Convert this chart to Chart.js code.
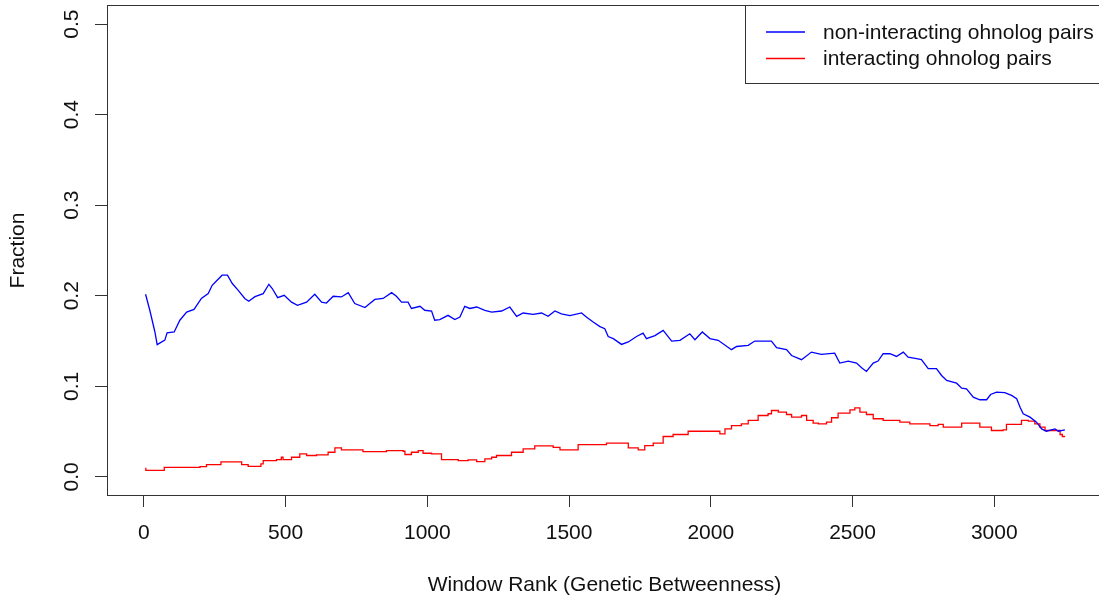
<!DOCTYPE html>
<html>
<head>
<meta charset="utf-8">
<script src="https://cdn.jsdelivr.net/npm/chart.js@4/dist/chart.umd.min.js"></script>
<style>
  html, body { margin: 0; padding: 0; background: #fff; overflow: hidden; }
  #wrap { width: 1104px; height: 599px; position: relative; }
</style>
</head>
<body>
<div id="wrap"><canvas id="c" width="1104" height="599"></canvas></div>
<script>
// Axis ticks
const xTickValues = [0, 500, 1000, 1500, 2000, 2500, 3000];
const yTickValues = [0, 0.1, 0.2, 0.3, 0.4, 0.5];

// Series names
const seriesLabels = ['non-interacting ohnolog pairs', 'interacting ohnolog pairs'];

// Fraction of non-interacting ohnolog pairs along the window rank
const nonInteractingRank = [
  6, 21, 39, 47, 74, 82, 107, 127, 151, 177, 203, 227, 241, 256, 276, 295, 312, 333, 356, 370,
  392, 421, 441, 453, 472, 495, 521, 542, 574, 603, 627, 644, 668, 697, 721, 744, 780, 797, 815, 844,
  874, 891, 909, 932, 944, 974, 991, 1015, 1026, 1044, 1073, 1097, 1115, 1132, 1150, 1174, 1203, 1227, 1262, 1291,
  1315, 1338, 1373, 1403, 1426, 1450, 1473, 1503, 1544, 1561, 1585, 1609, 1626, 1638, 1656, 1685, 1709, 1738, 1761, 1773,
  1803, 1832, 1862, 1891, 1926, 1944, 1970, 1997, 2026, 2073, 2091, 2132, 2155, 2214, 2232, 2267, 2285, 2320, 2355, 2390,
  2437, 2455, 2485, 2514, 2532, 2549, 2573, 2590, 2608, 2632, 2655, 2679, 2696, 2726, 2743, 2767, 2796, 2814, 2832, 2867,
  2885, 2902, 2926, 2949, 2973, 2987, 3008, 3037, 3061, 3079, 3091, 3102, 3126, 3149, 3167, 3184, 3214, 3226, 3249
];
const nonInteractingFrac = [
  0.2017, 0.184, 0.160, 0.146, 0.151, 0.159, 0.160, 0.173, 0.182, 0.185, 0.197, 0.2024, 0.2116, 0.2164, 0.2227, 0.2227, 0.2135, 0.206, 0.197, 0.194,
  0.199, 0.2024, 0.2127, 0.208, 0.198, 0.2005, 0.193, 0.1895, 0.193, 0.2017, 0.193, 0.192, 0.1995, 0.1987, 0.2035, 0.1914, 0.187, 0.1914, 0.196, 0.197,
  0.2035, 0.1995, 0.193, 0.193, 0.186, 0.1884, 0.184, 0.1832, 0.173, 0.1737, 0.1784, 0.1737, 0.1766, 0.1884, 0.186, 0.1876, 0.184, 0.182, 0.1832, 0.1876,
  0.1773, 0.181, 0.1795, 0.181, 0.1773, 0.1832, 0.180, 0.178, 0.181, 0.1766, 0.171, 0.166, 0.1637, 0.155, 0.1527, 0.1463, 0.149, 0.155, 0.1588, 0.1527,
  0.156, 0.1618, 0.150, 0.1508, 0.158, 0.1515, 0.160, 0.1527, 0.1508, 0.1405, 0.144, 0.1452, 0.150, 0.150, 0.1427, 0.1405, 0.134, 0.1294, 0.1378, 0.1353,
  0.1367, 0.1257, 0.1279, 0.1257, 0.1206, 0.1165, 0.1257, 0.1279, 0.136, 0.136, 0.133, 0.1378, 0.1323, 0.1305, 0.1294, 0.1195, 0.1195, 0.112, 0.1065, 0.1035,
  0.098, 0.0973, 0.088, 0.0852, 0.0852, 0.091, 0.0936, 0.093, 0.090, 0.0863, 0.077, 0.0697, 0.066, 0.0604, 0.053, 0.0504, 0.053, 0.0504, 0.052
];

// Fraction of interacting ohnolog pairs (step changes along the window rank)
const interactingRank = [
  5, 7, 72, 198, 221, 272, 345, 368, 413, 421, 468, 485, 491, 521, 550, 574, 609, 650, 674, 697,
  773, 856, 915, 921, 944, 968, 985, 1015, 1050, 1109, 1144, 1174, 1203, 1227, 1244, 1297, 1338, 1379, 1444, 1468,
  1532, 1632, 1709, 1744, 1767, 1797, 1832, 1867, 1920, 2032, 2050, 2073, 2108, 2132, 2167, 2202, 2214, 2238, 2267, 2285,
  2320, 2338, 2361, 2379, 2408, 2426, 2449, 2491, 2508, 2526, 2549, 2573, 2608, 2667, 2702, 2773, 2802, 2820, 2885, 2949,
  2990, 3031, 3043, 3096, 3120, 3143, 3161, 3179, 3232, 3240, 3250
];
const interactingFrac = [
  0.0095, 0.0073, 0.0106, 0.0114, 0.0136, 0.0166, 0.0136, 0.0117, 0.0144, 0.018, 0.0191, 0.0217, 0.0191, 0.0217, 0.0254, 0.0236, 0.0243, 0.0272, 0.032, 0.0299,
  0.028, 0.029, 0.0283, 0.0247, 0.0272, 0.029, 0.0261, 0.0254, 0.0191, 0.018, 0.0188, 0.0169, 0.0199, 0.0217, 0.0236, 0.0272, 0.031, 0.0343, 0.0327, 0.0299,
  0.0357, 0.0372, 0.032, 0.0299, 0.0346, 0.0372, 0.0446, 0.0468, 0.0504, 0.0476, 0.0531, 0.0567, 0.0586, 0.0623, 0.0678, 0.0697, 0.0733, 0.0715, 0.0689, 0.066,
  0.0678, 0.0623, 0.0593, 0.0586, 0.0604, 0.0653, 0.0704, 0.0741, 0.0763, 0.0715, 0.0689, 0.0642, 0.0623, 0.0604, 0.0586, 0.0567, 0.0579, 0.0549, 0.0593, 0.0549,
  0.0512, 0.052, 0.0579, 0.0623, 0.0615, 0.0586, 0.0549, 0.0512, 0.0468, 0.0446, 0.0446
];

const FONT = "'Liberation Sans', Arial, sans-serif";
const TEXT = '#111';
const AXIS = '#333';

const toPoints = (xs, ys) => xs.map((x, i) => ({ x, y: ys[i] }));

// Box around the plotting region
const frame = {
  id: 'frame',
  afterDraw(chart) {
    const { ctx, chartArea: a } = chart;
    ctx.save();
    ctx.strokeStyle = AXIS;
    ctx.lineWidth = 1;
    ctx.strokeRect(a.left + 0.5, a.top - 0.5, a.right - a.left, a.bottom - a.top + 1);
    ctx.restore();
  }
};

// Boxed legend in the top-right corner
const boxLegend = {
  id: 'boxLegend',
  afterDraw(chart) {
    const { ctx, chartArea: a } = chart;
    const left = 745.5, top = a.top - 0.5, bottom = 83.5;
    ctx.save();
    ctx.fillStyle = '#fff';
    ctx.fillRect(left, top, chart.width - left, bottom - top);
    ctx.strokeStyle = AXIS;
    ctx.lineWidth = 1;
    ctx.strokeRect(left, top, chart.width + 10 - left, bottom - top);
    const rows = [32, 58.5];
    chart.data.datasets.forEach((ds, i) => {
      const y = rows[i];
      ctx.strokeStyle = ds.borderColor;
      ctx.lineWidth = 1.3;
      ctx.beginPath();
      ctx.moveTo(766, y);
      ctx.lineTo(805, y);
      ctx.stroke();
      ctx.fillStyle = TEXT;
      ctx.font = `21px ${FONT}`;
      ctx.textBaseline = 'middle';
      ctx.textAlign = 'left';
      ctx.fillText(ds.label, 823, y + 1.2);
    });
    ctx.restore();
  }
};

new Chart(document.getElementById('c'), {
  type: 'line',
  data: {
    datasets: [
      {
        label: seriesLabels[0],
        data: toPoints(nonInteractingRank, nonInteractingFrac),
        borderColor: '#0000ff',
        borderWidth: 1.3,
        pointRadius: 0,
        tension: 0,
        fill: false
      },
      {
        label: seriesLabels[1],
        data: toPoints(interactingRank, interactingFrac),
        borderColor: '#ff0000',
        borderWidth: 1.3,
        pointRadius: 0,
        stepped: 'before',
        fill: false
      }
    ]
  },
  options: {
    responsive: false,
    animation: false,
    devicePixelRatio: 1,
    layout: { padding: { left: 0, right: 2, top: 6, bottom: 0 } },
    plugins: {
      legend: { display: false },
      tooltip: { enabled: false }
    },
    scales: {
      x: {
        type: 'linear',
        min: -130,
        max: 3380,
        afterBuildTicks(scale) { scale.ticks = xTickValues.map(v => ({ value: v })); },
        afterFit(scale) {
          scale.height = 104;
          scale.paddingLeft = 0;
          scale.paddingRight = 0;
        },
        border: { display: false },
        grid: { display: true, drawOnChartArea: false, drawTicks: true, tickLength: 12, color: AXIS, lineWidth: 1 },
        ticks: {
          autoSkip: false,
          maxRotation: 0,
          padding: 14,
          color: TEXT,
          font: { family: FONT, size: 21 },
          callback: v => String(v)
        },
        title: {
          display: true,
          text: 'Window Rank (Genetic Betweenness)',
          color: TEXT,
          font: { family: FONT, size: 21 },
          padding: { top: 0, bottom: 1.5 }
        }
      },
      y: {
        type: 'linear',
        min: -0.02,
        max: 0.52,
        afterBuildTicks(scale) { scale.ticks = yTickValues.map(v => ({ value: v })); },
        afterFit(scale) {
          scale.width = 107;
          scale.paddingTop = 0;
          scale.paddingBottom = 0;
        },
        border: { display: false },
        grid: { display: true, drawOnChartArea: false, drawTicks: true, tickLength: 12, color: AXIS, lineWidth: 1 },
        ticks: {
          autoSkip: false,
          minRotation: 90,
          maxRotation: 90,
          crossAlign: 'center',
          padding: 8.5,
          color: TEXT,
          font: { family: FONT, size: 21 },
          callback: v => v.toFixed(1)
        },
        title: {
          display: true,
          text: 'Fraction',
          color: TEXT,
          font: { family: FONT, size: 21 },
          padding: { top: 6, bottom: 0 }
        }
      }
    }
  },
  plugins: [frame, boxLegend]
});
</script>
</body>
</html>
